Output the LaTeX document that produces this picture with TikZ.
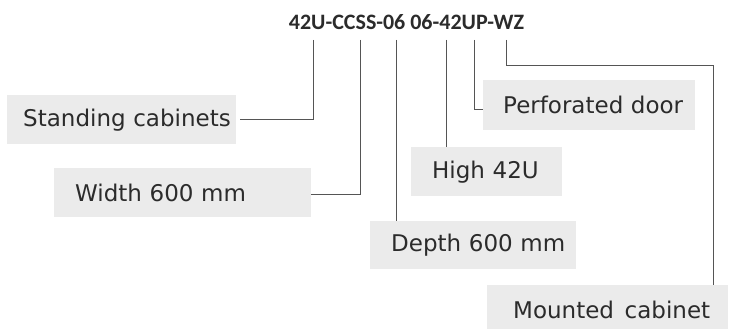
\documentclass[tikz,border=0pt]{standalone}
\usepackage{fontspec}
\setmainfont{DejaVu Sans}
\newfontfamily\codefont{Carlito}
\definecolor{boxgray}{HTML}{EBEBEB}
\definecolor{txtgray}{HTML}{2B2B2B}
\definecolor{linegray}{HTML}{555555}
\tikzset{
	lbl/.style={fill=boxgray, text=txtgray, anchor=north west, inner sep=0pt,
		align=left, font=\fontsize{23}{27}\selectfont},
	lead/.style={draw=linegray, line width=0.9pt}
}
\begin{document}
\begin{tikzpicture}[x=1pt, y=-1pt]
			\useasboundingbox (0, 0) rectangle (729, 329);
			\node[anchor=base, text=txtgray, inner sep=0pt, font=\codefont\bfseries\fontsize{22}{26}\selectfont] (code) at (406.5, 30) {42U-CCSS-06 06-42UP-WZ};

			\node[lbl, text width=229pt, minimum height=49pt] (std) at (7, 95) {\hspace*{16pt}Standing cabinets};
			\node[lbl, text width=257pt, minimum height=49pt] (wid) at (54, 168) {\hspace*{21pt}Width 600 mm};
			\node[lbl, text width=212pt, minimum height=50pt] (perf) at (483, 80) {\hspace*{20pt}Perforated door};
			\node[lbl, text width=151pt, minimum height=49pt] (high) at (411, 147) {\hspace*{21pt}High 42U};
			\node[lbl, text width=206pt, minimum height=48pt] (dep) at (370, 221) {\hspace*{21pt}Depth 600 mm};
			\node[lbl, text width=241pt, minimum height=49pt] (mount) at (487, 285) {\hspace*{26pt}Mounted\hspace{3pt} cabinet};

			\coordinate (t1) at (313, 40);
			\coordinate (t2) at (360, 40);
			\coordinate (t3) at (396, 40);
			\coordinate (t4) at (446, 40);
			\coordinate (t5) at (474, 40);
			\coordinate (t6) at (506, 40);
			\coordinate (k6) at (713, 65);

			\draw[lead] (t1) |- ([xshift=4pt]std.east);
			\draw[lead] (t2) |- ([yshift=-2pt]wid.east);
			\draw[lead] (t3) -- (t3 |- dep.north);
			\draw[lead] (t4) -- (t4 |- high.north);
			\draw[lead] (t5) |- ([yshift=-4pt]perf.west);
			\draw[lead] (t6) |- (k6) -- (k6 |- mount.north);
		\end{tikzpicture}
\end{document}
